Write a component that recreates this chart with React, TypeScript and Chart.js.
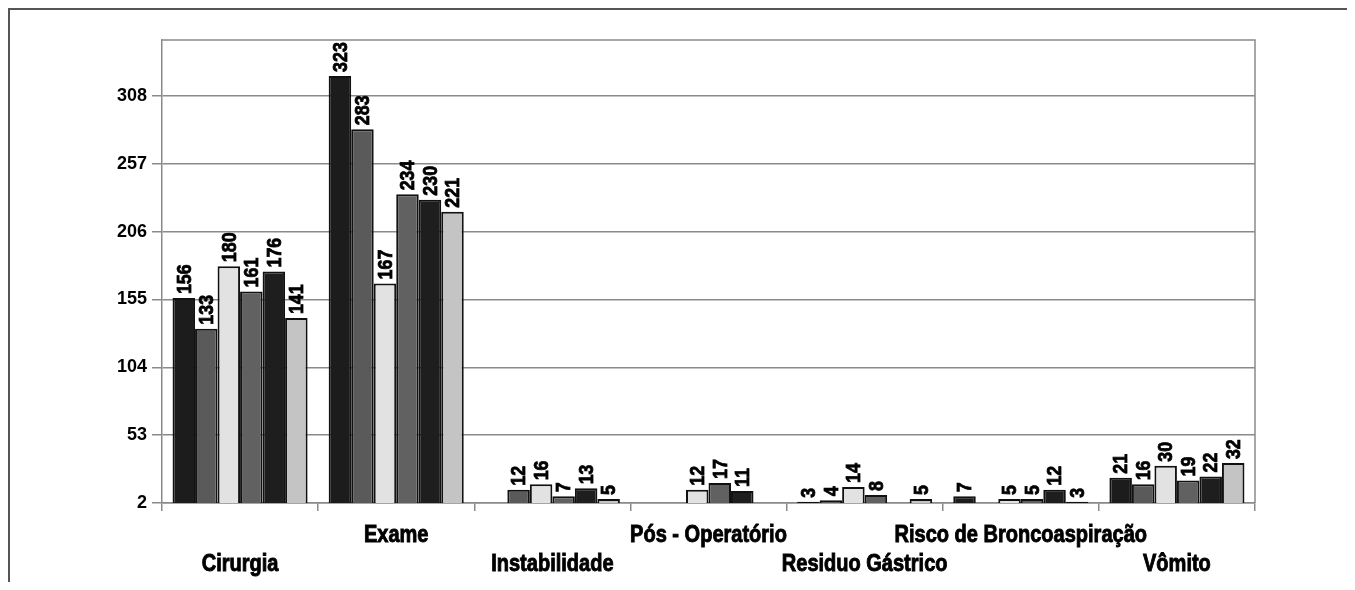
import React, { useEffect, useRef } from "react";
import { Chart, registerables } from "chart.js";

Chart.register(...registerables);

const categories = [
  "Cirurgia",
  "Exame",
  "Instabilidade",
  "Pós - Operatório",
  "Residuo Gástrico",
  "Risco de Broncoaspiração",
  "Vômito",
];

const serie1 = [156, 323, null, null, 3, 7, 21];
const serie2 = [133, 283, 12, null, 4, null, 16];
const serie3 = [180, 167, 16, 12, 14, 5, 30];
const serie4 = [161, 234, 7, 17, 8, 5, 19];
const serie5 = [176, 230, 13, 11, null, 12, 22];
const serie6 = [141, 221, 5, null, 5, 3, 32];

const yTicks = [2, 53, 104, 155, 206, 257, 308];

const seriesNames = ["Série 1", "Série 2", "Série 3", "Série 4", "Série 5", "Série 6"];
const seriesColors = ["#1c1c1c", "#5a5a5a", "#e2e2e2", "#616161", "#1e1e1e", "#c4c4c4"];

const SANS = "'Liberation Sans', Arial, sans-serif";

const labelPlugin = {
  id: "barLabels",
  afterDatasetsDraw(chart: any) {
    const ctx = chart.ctx;
    ctx.save();
    ctx.fillStyle = "#000";
    ctx.strokeStyle = "#000";
    ctx.lineWidth = 0.8;
    ctx.font = `bold 21px ${SANS}`;
    ctx.textAlign = "left";
    ctx.textBaseline = "middle";
    chart.data.datasets.forEach((ds: any, di: number) => {
      const meta = chart.getDatasetMeta(di);
      meta.data.forEach((el: any, i: number) => {
        const v = ds.data[i];
        if (v === null || v === undefined) return;
        ctx.save();
        ctx.translate(el.x, el.y - 4);
        ctx.rotate(-Math.PI / 2);
        ctx.scale(0.85, 1);
        ctx.fillText(String(v), 0, 1);
        ctx.strokeText(String(v), 0, 1);
        ctx.restore();
      });
    });
    ctx.restore();
  },
};

const catLabelPlugin = {
  id: "catLabels",
  afterDraw(chart: any) {
    const { ctx, chartArea } = chart;
    const xs = chart.scales.x;
    ctx.save();
    ctx.fillStyle = "#000";
    ctx.strokeStyle = "#000";
    ctx.lineWidth = 0.9;
    ctx.font = `bold 23px ${SANS}`;
    ctx.textAlign = "center";
    ctx.textBaseline = "middle";
    categories.forEach((c, i) => {
      const x = xs.getPixelForValue(i);
      const y = chartArea.bottom + (i % 2 === 0 ? 62 : 33);
      ctx.save();
      ctx.translate(x, y);
      ctx.scale(0.87, 1);
      ctx.fillText(c, 0, 0);
      ctx.strokeText(c, 0, 0);
      ctx.restore();
    });
    ctx.restore();
  },
};

const framePlugin = {
  id: "plotFrame",
  beforeDatasetsDraw(chart: any) {
    const { ctx, chartArea } = chart;
    ctx.save();
    ctx.strokeStyle = "#8a8a8a";
    ctx.lineWidth = 1.5;
    ctx.beginPath();
    ctx.moveTo(chartArea.left, chartArea.top);
    ctx.lineTo(chartArea.right, chartArea.top);
    ctx.lineTo(chartArea.right, chartArea.bottom);
    ctx.stroke();
    ctx.restore();
  },
};

export default function App() {
  const ref = useRef<HTMLCanvasElement | null>(null);

  useEffect(() => {
    document.body.style.overflow = "hidden";
    const all = [serie1, serie2, serie3, serie4, serie5, serie6];
    const chart = new Chart(ref.current as HTMLCanvasElement, {
      type: "bar",
      data: {
        labels: categories,
        datasets: all.map((d, k) => ({
          label: seriesNames[k],
          data: d,
          backgroundColor: seriesColors[k],
          borderColor: "#111",
          borderWidth: 2,
          categoryPercentage: 0.865,
          barPercentage: 1,
        })),
      },
      options: {
        animation: false,
        responsive: true,
        maintainAspectRatio: false,
        layout: { padding: { top: 30, right: 100, left: 0, bottom: 0 } },
        plugins: { legend: { display: false }, tooltip: { enabled: false } },
        scales: {
          x: {
            offset: true,
            grid: {
              offset: true,
              display: true,
              drawOnChartArea: false,
              drawTicks: true,
              tickLength: 8,
              color: "#8a8a8a",
              lineWidth: 1.5,
            },
            border: { display: true, color: "#8a8a8a", width: 1.5 },
            ticks: { display: false, autoSkip: false, maxRotation: 0, minRotation: 0 },
            afterFit: (s: any) => {
              s.height = 79;
            },
          },
          y: {
            min: 2,
            max: 350,
            afterBuildTicks: (s: any) => {
              s.ticks = yTicks.map((v) => ({ value: v }));
            },
            grid: {
              display: true,
              drawOnChartArea: true,
              drawTicks: true,
              tickLength: 10,
              color: "#8a8a8a",
              lineWidth: 1.5,
            },
            border: { display: true, color: "#8a8a8a", width: 1.5 },
            ticks: {
              padding: 5,
              color: "#000",
              font: { family: SANS, size: 18, weight: "bold" },
            },
            afterFit: (s: any) => {
              s.width = 152;
            },
          },
        },
      },
      plugins: [labelPlugin, catLabelPlugin, framePlugin],
    } as any);
    return () => chart.destroy();
  }, []);

  return (
    <div
      style={{
        width: 1347,
        height: 574,
        boxSizing: "border-box",
        borderTop: "2px solid #555",
        borderLeft: "2px solid #555",
        position: "relative",
        background: "#fff",
      }}
    >
      <div style={{ position: "absolute", left: 0, top: 0, width: 1345, height: 572 }}>
        <canvas ref={ref} />
      </div>
    </div>
  );
}
